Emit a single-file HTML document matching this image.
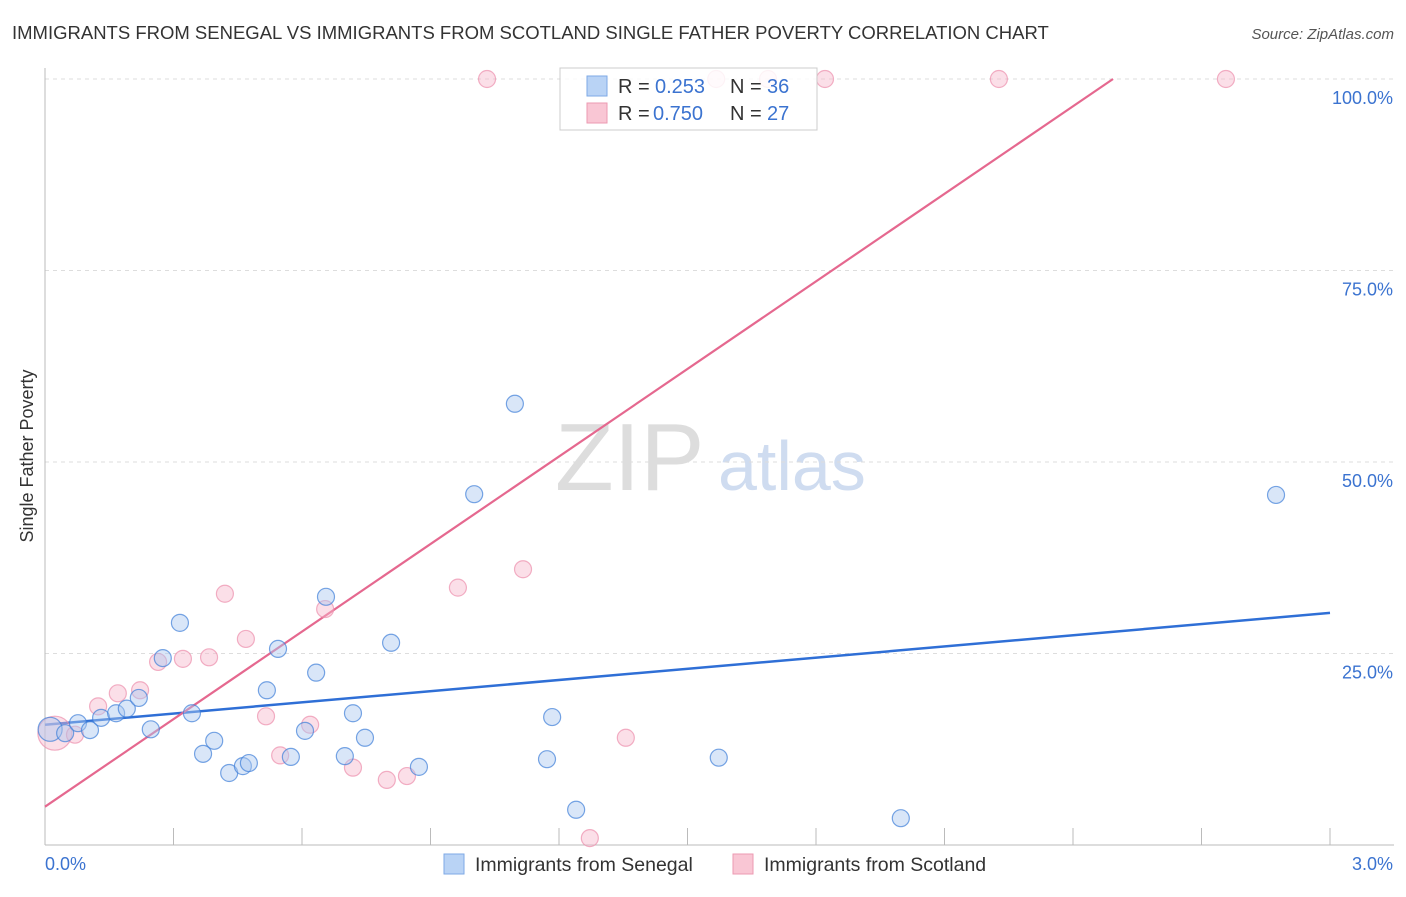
<!DOCTYPE html>
<html><head><meta charset="utf-8"><style>
body{margin:0;background:#fff;font-family:"Liberation Sans",sans-serif;}
svg text{font-family:"Liberation Sans",sans-serif;}
</style></head><body>
<svg id="chart" width="1406" height="892">
<text x="12" y="39" font-size="18.5" fill="#333">IMMIGRANTS FROM SENEGAL VS IMMIGRANTS FROM SCOTLAND SINGLE FATHER POVERTY CORRELATION CHART</text>
<text x="1394" y="39" font-size="15" fill="#555" font-style="italic" text-anchor="end">Source: ZipAtlas.com</text>
<text x="33" y="456" font-size="18" fill="#333" text-anchor="middle" transform="rotate(-90 33 456)">Single Father Poverty</text>
<text x="555" y="490" font-size="96" fill="#ddd" font-family="Liberation Serif">ZIP</text>
<text x="718" y="490" font-size="70" fill="#cfdcf0">atlas</text>
<g id="grid"></g><g id="axes"></g><g id="lines"></g><g id="pts"></g>
<g>
<rect x="560" y="68" width="257" height="62" fill="#fff" fill-opacity="0.85" stroke="#ccc"/>
<rect x="587" y="76" width="20" height="20" fill="#b9d3f5" stroke="#7eaae6"/>
<rect x="587" y="103" width="20" height="20" fill="#f9c6d4" stroke="#ec9ab2"/>
<text x="618" y="93" font-size="20" fill="#333">R =</text>
<text x="655" y="93" font-size="20" fill="#3b73d0">0.253</text>
<text x="730" y="93" font-size="20" fill="#333">N =</text>
<text x="767" y="93" font-size="20" fill="#3b73d0">36</text>
<text x="618" y="120" font-size="20" fill="#333">R =</text>
<text x="653" y="120" font-size="20" fill="#3b73d0">0.750</text>
<text x="730" y="120" font-size="20" fill="#333">N =</text>
<text x="767" y="120" font-size="20" fill="#3b73d0">27</text>
</g>
<g>
<rect x="444" y="854" width="20" height="20" fill="#b9d3f5" stroke="#7eaae6"/>
<text x="475" y="871" font-size="19.5" fill="#333">Immigrants from Senegal</text>
<rect x="733" y="854" width="20" height="20" fill="#f9c6d4" stroke="#ec9ab2"/>
<text x="764" y="871" font-size="19.5" fill="#333">Immigrants from Scotland</text>
</g>
</svg>
<script>
const blueX=[0.012,0.047,0.077,0.105,0.131,0.166,0.191,0.219,0.247,0.275,0.315,0.343,0.369,0.395,0.430,0.462,0.476,0.518,0.544,0.574,0.607,0.633,0.656,0.700,0.719,0.747,0.808,0.873,1.002,1.097,1.172,1.184,1.240,1.573,1.998,2.874];
const blueY=[15.1,14.6,15.9,15.0,16.6,17.2,17.8,19.2,15.1,24.4,29.0,17.2,11.9,13.6,9.4,10.3,10.7,20.2,25.6,11.5,14.9,22.5,32.4,11.6,17.2,14.0,26.4,10.2,45.8,57.6,11.2,16.7,4.6,11.4,3.5,45.7];
const pinkX=[0.023,0.070,0.124,0.170,0.222,0.264,0.322,0.383,0.420,0.469,0.516,0.549,0.619,0.654,0.719,0.798,0.845,0.964,1.032,1.116,1.272,1.356,1.567,1.688,1.821,2.227,2.757];
const pinkY=[14.6,14.4,18.1,19.8,20.2,23.9,24.3,24.5,32.8,26.9,16.8,11.7,15.7,30.8,10.1,8.5,9.0,33.6,100,36.0,0.9,14.0,100,100,100,100,100];
const blueTrend=[15.7,30.3];
const pinkTrend=[5.0,119.3];
const yTicks=[25,50,75,100];
const yTickLabels=["25.0%","50.0%","75.0%","100.0%"];
const xTickCount=10;
const NS="http://www.w3.org/2000/svg";
const X=v=>45+v/3*1285, Y=v=>845-v/100*766;
function mk(tag,attrs,parent){const e=document.createElementNS(NS,tag);for(const k in attrs)e.setAttribute(k,attrs[k]);document.getElementById(parent).appendChild(e);return e;}
yTicks.forEach((t,i)=>{
 const l=mk('line',{x1:45,x2:1394,y1:Y(t),y2:Y(t),stroke:'#ddd','stroke-dasharray':'4,4'},'grid');
 
 
 const tx=mk('text',{x:1393,y:Y(t)+25,'font-size':18,fill:'#3b73d0','text-anchor':'end'},'grid');
 tx.textContent=yTickLabels[i];
 
 
});
const ya=mk('line',{x1:45,x2:45,y1:68,y2:845,stroke:'#bbb'},'axes');


const xa=mk('line',{x1:45,x2:1394,y1:845,y2:845,stroke:'#bbb'},'axes');


for(let i=1;i<=xTickCount;i++){const v=3*i/xTickCount;const t=mk('line',{x1:X(v),x2:X(v),y1:828,y2:845,stroke:'#bbb'},'axes');
 
 }
const x0=mk('text',{x:45,y:870,'font-size':18,fill:'#3b73d0'},'axes');x0.textContent='0.0%';


const x1=mk('text',{x:1393,y:870,'font-size':18,fill:'#3b73d0','text-anchor':'end'},'axes');x1.textContent='3.0%';


function drawPts(xs,ys,fill,stroke,name){xs.forEach((x,i)=>{const r=(i===0&&name==='scotland-point')?17:(i===0?12:8.5);
 const c=mk('circle',{cx:X(x),cy:Y(ys[i]),r:r,fill:fill,'fill-opacity':0.45,stroke:stroke,'stroke-opacity':0.7,'stroke-width':1.2},'pts');
 
 });}
drawPts(pinkX,pinkY,'#f7b9cb','#ec8fac','scotland-point');
drawPts(blueX,blueY,'#aac8f0','#3f7fd8','senegal-point');
const bl=mk('line',{x1:X(0),y1:Y(blueTrend[0]),x2:X(3),y2:Y(blueTrend[1]),stroke:'#2f6fd6','stroke-width':2.5},'lines');


const xe=(100-pinkTrend[0])/(pinkTrend[1]-pinkTrend[0])*3;
const pl=mk('line',{x1:X(0),y1:Y(pinkTrend[0]),x2:X(xe),y2:Y(100),stroke:'#e5688f','stroke-width':2.2},'lines');


</script>
</body></html>
